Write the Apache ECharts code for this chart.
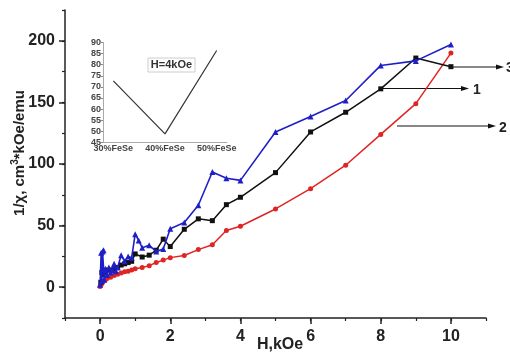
<!DOCTYPE html>
<html><head><meta charset="utf-8">
<script src="https://cdn.jsdelivr.net/npm/echarts@6/dist/echarts.min.js"></script>
<style>html,body{margin:0;padding:0;background:#fff}#c{width:510px;height:356px}</style>
</head><body><div id="c"></div>
<script>
// Curve 2 (red, circles)
const hRed = [0, 0.03, 0.06, 0.1, 0.15, 0.2, 0.3, 0.4, 0.5, 0.6, 0.7, 0.8, 0.9, 1.0, 1.2, 1.4, 1.6, 1.8, 2.0, 2.4, 2.8, 3.2, 3.6, 4.0, 5, 6, 7, 8, 9, 10];
const yRed = [0.5, 2, 3.5, 5, 6, 7, 8, 9.5, 10.5, 11.5, 12.5, 13, 14, 15, 16, 17.5, 20, 22, 24, 25.7, 30.5, 34.5, 46, 49.5, 63.5, 80, 99, 124, 149, 190];
// Curve 1 (black, squares)
const hBlack = [0.02, 0.05, 0.08, 0.1, 0.15, 0.2, 0.3, 0.4, 0.5, 0.6, 0.7, 0.8, 0.9, 1.0, 1.2, 1.4, 1.6, 1.8, 2.0, 2.4, 2.8, 3.2, 3.6, 4.0, 5, 6, 7, 8, 9, 10];
const yBlack = [4, 12, 10, 13, 12, 14, 14, 15, 16, 18, 19, 20, 21, 27, 24.5, 26, 30, 39, 33, 47, 55.5, 54, 67, 73, 93, 126, 142, 161, 186, 179];
// Curve 3 (blue, triangles)
const hBlue = [0, 0.03, 0.05, 0.07, 0.1, 0.12, 0.15, 0.2, 0.25, 0.3, 0.35, 0.4, 0.45, 0.5, 0.6, 0.7, 0.8, 0.9, 1.0, 1.1, 1.2, 1.4, 1.6, 1.8, 2.0, 2.4, 2.8, 3.2, 3.6, 4.0, 5, 6, 7, 8, 9, 10];
const yBlue = [2, 28, 5, 29, 30, 6, 15, 10, 16, 12, 14, 19, 13, 16, 26, 21, 25, 24, 43, 38, 32, 34, 29, 31, 47.5, 52.5, 66.5, 93.5, 88.5, 86.7, 126, 138.6, 151.5, 180, 183.7, 197];
// Inset (H = 4 kOe)
const insetCats = ['30%FeSe', '40%FeSe', '50%FeSe'];
const insetPos = [1, 2, 3];
const insetVals = [72.7, 48.8, 86.4];
// Tick labels
const xTickLabels = [0, 2, 4, 6, 8, 10];
const yTickLabels = [0, 50, 100, 150, 200];
const insetYTicks = [45, 50, 55, 60, 65, 70, 75, 80, 85, 90];

const FF = '"Liberation Sans", Arial, sans-serif';
const zip = (a, b) => a.map((v, i) => [v, b[i]]);

const chart = echarts.init(document.getElementById('c'), null, {renderer: 'canvas'});
const axisCol = '#222';
chart.setOption({
  animation: false,
  backgroundColor: '#fff',
  grid: [
    {left: 65, top: 10, width: 421, height: 308},
    {left: 103, top: 42.5, width: 124, height: 99.8}
  ],
  xAxis: [
    {type: 'value', gridIndex: 0, min: -1, max: 11, interval: 1, position: 'bottom',
     axisLine: {show: true, onZero: false, lineStyle: {color: axisCol, width: 1.5}},
     axisTick: {show: true, length: 6, customValues: xTickLabels, lineStyle: {color: axisCol, width: 1.5}},
     axisLabel: {customValues: xTickLabels, margin: 11, fontSize: 16, fontWeight: 'bold', color: '#222', fontFamily: FF},
     splitLine: {show: false}},
    {type: 'value', gridIndex: 0, min: -1, max: 11, interval: 1, position: 'bottom',
     axisLine: {show: false, onZero: false},
     axisTick: {show: true, length: 3, lineStyle: {color: axisCol, width: 1.2}},
     axisLabel: {show: false}, splitLine: {show: false}},
    {type: 'value', gridIndex: 1, min: 0.8, max: 3.2, position: 'bottom',
     axisLine: {show: true, onZero: false, lineStyle: {color: '#aaa', width: 1}},
     axisTick: {show: false},
     axisLabel: {customValues: insetPos, formatter: v => insetCats[Math.round(v) - 1] || '', margin: 2,
                 fontSize: 9, fontWeight: 'bold', color: '#444', fontFamily: FF},
     splitLine: {show: false}}
  ],
  yAxis: [
    {type: 'value', gridIndex: 0, min: -25, max: 225, interval: 25, position: 'left',
     axisLine: {show: true, onZero: false, lineStyle: {color: axisCol, width: 1.5}},
     axisTick: {show: true, length: 6, customValues: yTickLabels, lineStyle: {color: axisCol, width: 1.5}},
     axisLabel: {customValues: yTickLabels, margin: 10, fontSize: 16, fontWeight: 'bold', color: '#222', fontFamily: FF},
     splitLine: {show: false}},
    {type: 'value', gridIndex: 0, min: -25, max: 225, interval: 25, position: 'left',
     axisLine: {show: false, onZero: false},
     axisTick: {show: true, length: 3, lineStyle: {color: axisCol, width: 1.2}},
     axisLabel: {show: false}, splitLine: {show: false}},
    {type: 'value', gridIndex: 1, min: 45, max: 90, interval: 5, position: 'left',
     axisLine: {show: true, onZero: false, lineStyle: {color: '#aaa', width: 1}},
     axisTick: {show: true, length: 2, lineStyle: {color: '#888'}},
     axisLabel: {customValues: insetYTicks, margin: 2, fontSize: 9, fontWeight: 'bold', color: '#444', fontFamily: FF},
     splitLine: {show: false}}
  ],
  series: [
    {type: 'line', name: '2', xAxisIndex: 0, yAxisIndex: 0, data: zip(hRed, yRed),
     symbol: 'circle', symbolSize: 5, lineStyle: {color: '#e02424', width: 1.5},
     itemStyle: {color: '#e02424'}, z: 3},
    {type: 'line', name: '1', xAxisIndex: 0, yAxisIndex: 0, data: zip(hBlack, yBlack),
     symbol: 'rect', symbolSize: 5, lineStyle: {color: '#111', width: 1.5},
     itemStyle: {color: '#111'}, z: 4},
    {type: 'line', name: '3', xAxisIndex: 0, yAxisIndex: 0, data: zip(hBlue, yBlue),
     symbol: 'triangle', symbolSize: 6, lineStyle: {color: '#1f1fc8', width: 1.6},
     itemStyle: {color: '#1f1fc8'}, z: 5},
    {type: 'line', name: 'inset', xAxisIndex: 2, yAxisIndex: 2, data: zip(insetPos, insetVals),
     symbol: 'none', lineStyle: {color: '#333', width: 1.2}}
  ],
  graphic: [
    {type: 'text', x: 19, y: 153, rotation: Math.PI / 2,
     style: {text: '{a|1/χ, cm}{s|3}{a|*kOe/emu}', align: 'center', verticalAlign: 'middle',
       rich: {a: {fontSize: 15, fontWeight: 'bold', fontFamily: FF, fill: '#222', lineHeight: 17, verticalAlign: 'bottom'},
              s: {fontSize: 10, fontWeight: 'bold', fontFamily: FF, fill: '#222', lineHeight: 17, verticalAlign: 'top'}}}},
    {type: 'text', x: 280, y: 345,
     style: {text: 'H,kOe', font: 'bold 16px ' + FF, fill: '#222', align: 'center', verticalAlign: 'middle'}},
    {type: 'rect', shape: {x: 148, y: 58, width: 47, height: 14},
     style: {fill: '#fff', stroke: '#ccc', lineWidth: 1}},
    {type: 'text', x: 171.5, y: 65,
     style: {text: 'H=4kOe', font: 'bold 11px ' + FF, fill: '#333', align: 'center', verticalAlign: 'middle'}},
    // arrows
    {type: 'line', shape: {x1: 451, y1: 67, x2: 497, y2: 67}, style: {stroke: '#111', lineWidth: 1}},
    {type: 'polygon', shape: {points: [[504, 67], [496, 64.5], [496, 69.5]]}, style: {fill: '#111'}},
    {type: 'text', x: 506, y: 68, style: {text: '3', font: 'bold 14px ' + FF, fill: '#222', verticalAlign: 'middle'}},
    {type: 'line', shape: {x1: 383, y1: 88.5, x2: 462, y2: 88.5}, style: {stroke: '#111', lineWidth: 1}},
    {type: 'polygon', shape: {points: [[469, 88.5], [461, 86], [461, 91]]}, style: {fill: '#111'}},
    {type: 'text', x: 473, y: 90, style: {text: '1', font: 'bold 14px ' + FF, fill: '#222', verticalAlign: 'middle'}},
    {type: 'line', shape: {x1: 397, y1: 126, x2: 489, y2: 126}, style: {stroke: '#111', lineWidth: 1}},
    {type: 'polygon', shape: {points: [[496, 126], [488, 123.5], [488, 128.5]]}, style: {fill: '#111'}},
    {type: 'text', x: 499, y: 128, style: {text: '2', font: 'bold 14px ' + FF, fill: '#222', verticalAlign: 'middle'}}
  ]
});
</script></body></html>
